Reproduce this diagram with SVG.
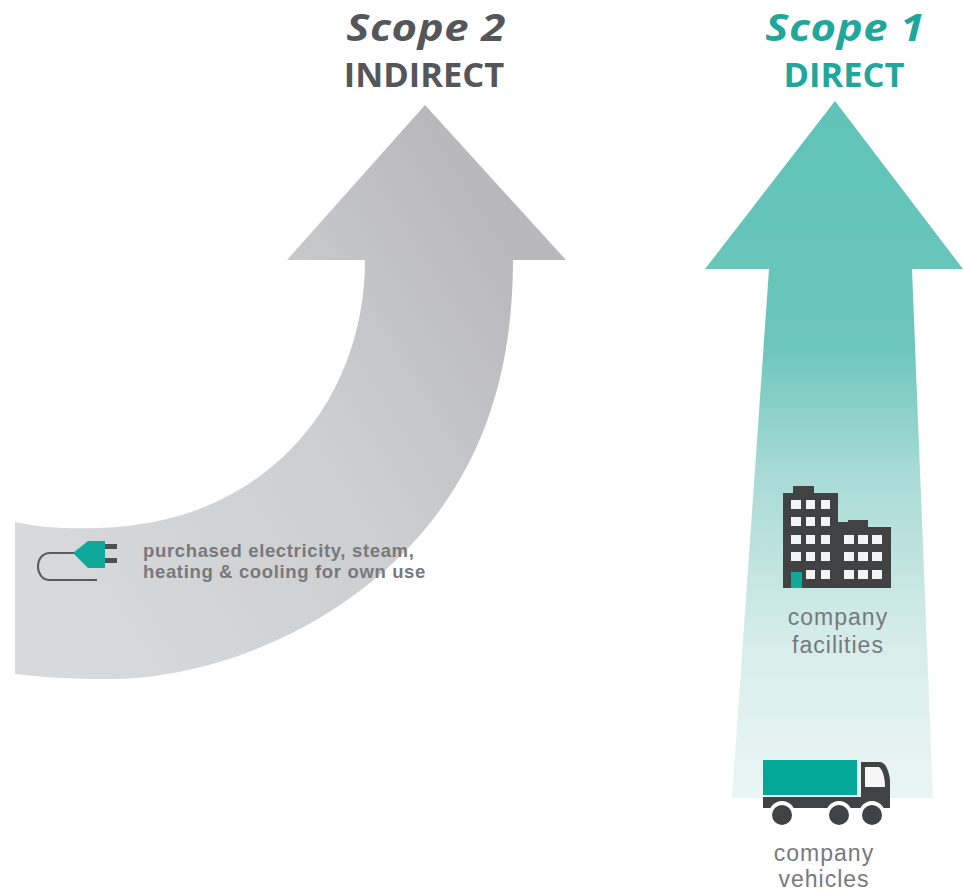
<svg xmlns="http://www.w3.org/2000/svg" width="963" height="892" viewBox="0 0 963 892">
<style>
.h{font-family:"Open Sans","Liberation Sans",sans-serif;font-weight:700;text-anchor:middle}
.s{font-size:38px;font-style:italic;letter-spacing:.5px}
.d{font-size:34.5px}
.g{fill:#55565a}.t{fill:#1fa79c}
.l{font-family:"Liberation Sans",Arial,sans-serif;font-size:23px;letter-spacing:1px;fill:#77797c;text-anchor:middle}
.p{font-family:"Liberation Sans",Arial,sans-serif;font-size:18.5px;font-weight:700;letter-spacing:.65px;fill:#77797c}
.k{fill:#414243}.w{fill:#f4f4f4}
</style>
<defs>
<linearGradient id="gg" gradientUnits="userSpaceOnUse" x1="60" y1="600" x2="540" y2="300">
<stop offset="0" stop-color="#d8d9db"/><stop offset="0.55" stop-color="#cdced0"/><stop offset="1" stop-color="#b9b9bb"/>
</linearGradient>
<linearGradient id="tg" gradientUnits="userSpaceOnUse" x1="0" y1="101" x2="0" y2="798">
<stop offset="0" stop-color="#5fc3b8"/><stop offset="0.35" stop-color="#6cc6bc"/><stop offset="0.53" stop-color="#a8dad5"/><stop offset="0.79" stop-color="#d8eeeb"/><stop offset="1" stop-color="#eaf6f4"/>
</linearGradient>
</defs>
<g id="scope2-arrow">
<path fill="url(#gg)" d="M425 105L566 260H513C513 340 498 430 440 510C360 620 220 680 105 679C70 679 40 677 15 674V522C40 528 70 529 100 528C170 525 235 505 290 450C340 400 365 330 365 260H287Z"/>
</g>
<g id="scope1-arrow">
<path fill="url(#tg)" d="M835 101L963 269H912L933 798H732L769 269H705Z"/>
</g>
<g id="scope2-title">
<text class="h s g" transform="translate(426 41) scale(1.15 1)">Scope 2</text>
<text class="h d g" x="424" y="87">INDIRECT</text>
</g>
<g id="scope1-title">
<text class="h s t" transform="translate(845 41) scale(1.15 1)">Scope 1</text>
<text class="h d t" x="844" y="87">DIRECT</text>
</g>
<g id="electricity">
<path fill="none" stroke="#5a5b5d" stroke-width="2" d="M76 553H50C34 553 34 580 50 580H97"/>
<path fill="#0fa99b" d="M73 553L88 541H105V568H88Z"/>
<rect x="105" y="544" width="12" height="5" fill="#4f5052"/>
<rect x="105" y="558" width="12" height="5" fill="#4f5052"/>
<text class="p" x="143" y="557">purchased electricity, steam,</text>
<text class="p" x="143" y="578">heating &amp; cooling for own use</text>
</g>
<g id="facilities">
<path class="k" d="M783 493H793V486H814V493H838V522H848V520H868V527H891V588H783Z"/>
<g class="w">
<rect x="791" y="500" width="10" height="9"/><rect x="806" y="500" width="9" height="9"/><rect x="821" y="500" width="9" height="9"/>
<rect x="791" y="517" width="10" height="9"/><rect x="806" y="517" width="9" height="9"/><rect x="821" y="517" width="9" height="9"/>
<rect x="791" y="535" width="10" height="9"/><rect x="806" y="535" width="9" height="9"/><rect x="821" y="535" width="9" height="9"/>
<rect x="791" y="552" width="10" height="9"/><rect x="806" y="552" width="9" height="9"/><rect x="821" y="552" width="9" height="9"/>
<rect x="806" y="570" width="9" height="9"/><rect x="821" y="570" width="9" height="9"/>
<rect x="844" y="535" width="10" height="9"/><rect x="858" y="535" width="10" height="9"/><rect x="872" y="535" width="10" height="9"/>
<rect x="844" y="552" width="10" height="9"/><rect x="858" y="552" width="10" height="9"/><rect x="872" y="552" width="10" height="9"/>
<rect x="844" y="570" width="10" height="9"/><rect x="858" y="570" width="10" height="9"/><rect x="872" y="570" width="10" height="9"/>
</g>
<rect x="791" y="572" width="11" height="16" fill="#0fa99b"/>
<text class="l" x="838" y="625">company</text>
<text class="l" x="838" y="653">facilities</text>
</g>
<g id="vehicles">
<rect x="763" y="760" width="94" height="35" fill="#04a899"/>
<path class="k" d="M861 762H880C885 762 889 770 890 780V808H763V797H861Z"/>
<path fill="#f7f7f7" d="M865 767H879C882 769 885 776 885 787H865Z"/>
<g fill="#fff">
<circle cx="782" cy="814" r="13"/><circle cx="839" cy="814" r="13"/><circle cx="872" cy="814" r="13"/>
</g>
<g class="k">
<circle cx="782" cy="815" r="10"/><circle cx="839" cy="815" r="10"/><circle cx="872" cy="815" r="10"/>
</g>
<text class="l" x="824" y="861">company</text>
<text class="l" x="824" y="887">vehicles</text>
</g>
</svg>
